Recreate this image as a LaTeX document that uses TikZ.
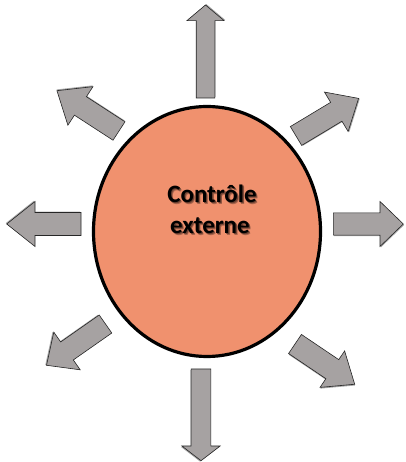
\documentclass[tikz,border=0pt]{standalone}
\usepackage{fontspec}
\setmainfont{Carlito}
\usetikzlibrary{shapes.geometric}
\definecolor{salmon}{RGB}{240,145,110}
\definecolor{arrowgray}{RGB}{166,162,162}
\tikzset{
  blockarrow/.style={fill=arrowgray, draw=black!85, line width=0.6pt, line join=miter},
  arrowshadow/.style={fill=black, opacity=0.35},
  centre/.style={fill=salmon, draw=black, line width=3.2pt},
  titletext/.style={font=\bfseries\fontsize{25}{30.6}\selectfont, inner sep=0pt, anchor=base},
}
% bold word with a soft drop shadow behind it
\newcommand\shadowword[1]{%
  \rlap{\raisebox{-1.8pt}{\kern1.8pt\textcolor{salmon!70!black}{#1}}}%
  \rlap{\raisebox{-1.1pt}{\kern1.1pt\textcolor{salmon!45!black}{#1}}}#1}
% block arrow: tail centre, angle, length, shaft width, head width, head length
\newcommand\blockarr[6]{%
  \begin{scope}[shift={#1}, rotate=#2]
    \fill[arrowshadow, shift={(0.9,-0.9)}]
      (0,-#4/2) -- (#3-#6,-#4/2) -- (#3-#6,-#5/2) -- (#3,0)
      -- (#3-#6,#5/2) -- (#3-#6,#4/2) -- (0,#4/2) -- cycle;
    \draw[blockarrow]
      (0,-#4/2) -- (#3-#6,-#4/2) -- (#3-#6,-#5/2) -- (#3,0)
      -- (#3-#6,#5/2) -- (#3-#6,#4/2) -- (0,#4/2) -- cycle;
  \end{scope}}
\begin{document}
\begin{tikzpicture}[x=1pt, y=1pt]
  \useasboundingbox (0,0) rectangle (405,462);
  % eight arrows pointing away from the centre
  \blockarr{(205.5,364)}{90}{93}{18.6}{37.3}{15.7}
  \blockarr{(201,93)}{-90}{91.7}{19.7}{38.3}{14.7}
  \blockarr{(81,238)}{180}{74.3}{23}{45}{28.3}
  \blockarr{(333.3,238)}{0}{70}{22.3}{45}{23.3}
  \blockarr{(296,326)}{31}{73}{22}{46}{26}
  \blockarr{(119,331)}{147}{74}{22}{46}{28}
  \blockarr{(295,118)}{-34}{72}{23}{44}{27}
  \blockarr{(105.5,138)}{-145}{72}{22}{46}{25}
  % central ellipse
  \node[centre, ellipse, minimum width=227pt, minimum height=250pt, inner sep=0pt] (core) at (207,230.5) {};
  % two-line label
  \node[titletext] (line1) at (212,259.3) {\shadowword{Contrôle}};
  \node[titletext] (line2) at (210,228.7) {\shadowword{externe}};
\end{tikzpicture}
\end{document}
